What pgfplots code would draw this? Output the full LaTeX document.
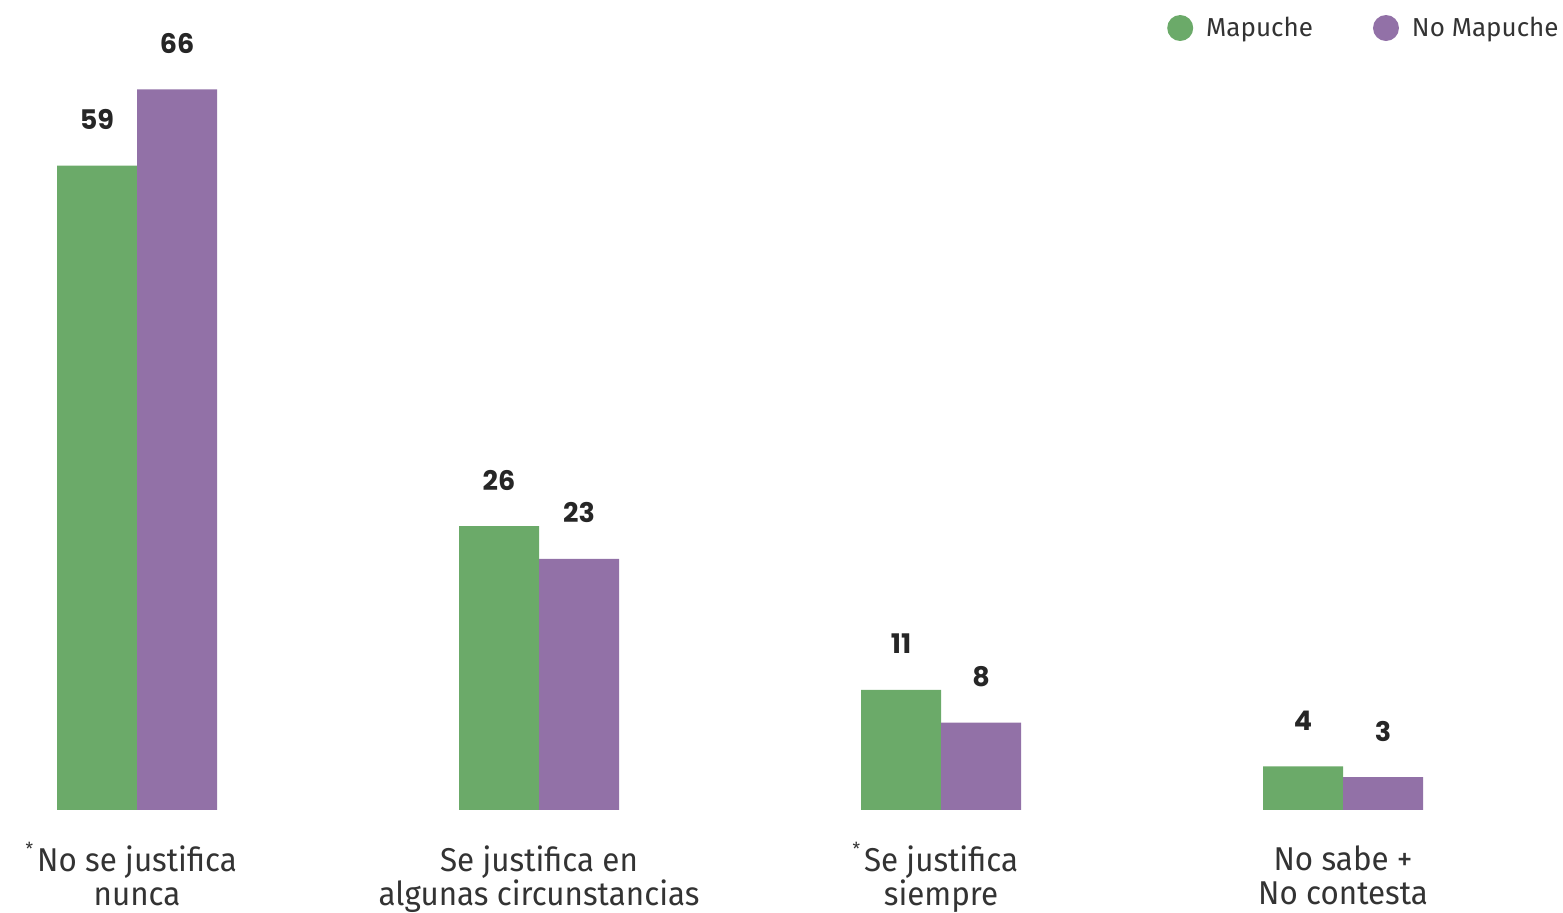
\documentclass[border=0pt]{standalone}
\usepackage{pgfplots}
\pgfplotsset{compat=1.18}
\usepackage{fontspec}
\setmainfont{Fira Sans}
\newfontfamily\labelfont{Fira Sans}[FakeStretch=0.95]
\newfontfamily\numfont{Poppins}
\definecolor{mgreen}{HTML}{6BAA69}
\definecolor{mpurple}{HTML}{9271A7}
\definecolor{txt}{HTML}{333333}
\newcommand{\astmark}{\llap{\smash{\raisebox{0.5em}{\small*}}\hspace{2pt}}}
\begin{document}
\begin{tikzpicture}
\path[use as bounding box] (0,0) rectangle (781.5pt,456.5pt);
\begin{axis}[
  at={(0pt,51.5pt)}, anchor=south west,
  scale only axis, width=781.5pt, height=405pt,
  xmin=-0.3408, xmax=3.547, ymin=0, ymax=74.18,
  ybar=0pt, bar width=40pt,
  axis line style={draw=none}, major tick length=0pt,
  ytick=\empty,
  /pgf/number format/assume math mode=true,
  xtick={0,1,2,3},
  xticklabels={{\astmark No se justifica\\nunca},
               {Se justifica en\\algunas circunstancias},
               {\astmark Se justifica\\siempre},
               {No sabe +\\No contesta}},
  xticklabel style={align=center, font=\labelfont\fontsize{16.5}{17}\selectfont, text=txt, anchor=north, yshift=-14.5pt},
  nodes near coords,
  every node near coord/.append style={font=\numfont\bfseries\fontsize{13.5}{14}\selectfont, text=black!85, anchor=center, yshift=23pt},
  legend style={at={(1,0.9654)}, anchor=east, draw=none, fill=none, legend columns=2,
     font=\fontsize{13}{14}\selectfont, text=txt, inner sep=0pt,
     /tikz/every odd column/.append style={column sep=4.5pt},
     /tikz/every even column/.append style={column sep=28pt}},
  legend image code/.code={\fill[#1,draw=none] (0pt,0pt) circle (6.5pt);},
]
\addplot[fill=mgreen, draw=none] coordinates {(0,59) (1,26) (2,11) (3,4)};
\addplot[fill=mpurple, draw=none] coordinates {(0,66) (1,23) (2,8) (3,3)};
\legend{Mapuche, No Mapuche}
\end{axis}
\end{tikzpicture}
\end{document}
